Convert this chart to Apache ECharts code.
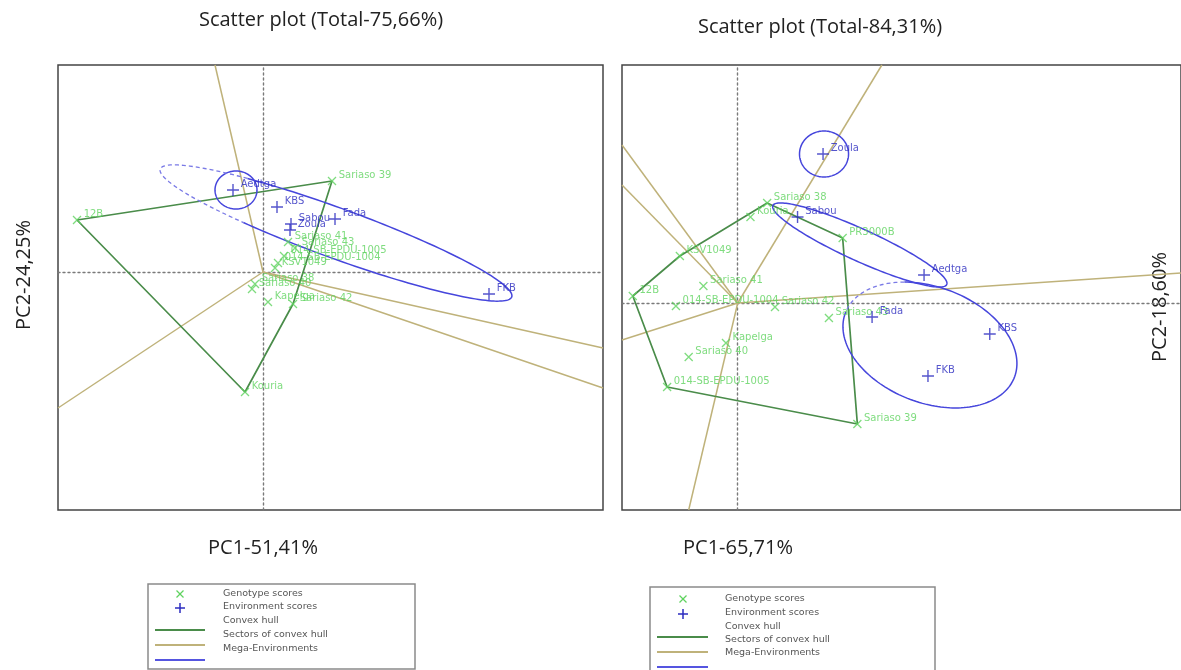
<!DOCTYPE html>
<html><head><meta charset="utf-8">
<script src="https://cdn.jsdelivr.net/npm/echarts@6/dist/echarts.min.js"></script>
<style>html,body{margin:0;padding:0;background:#fff}#c{width:1181px;height:670px}</style>
</head><body><div id="c"></div>
<script>
// ---------- Left biplot (Total 75,66%) ----------
const leftGenoNames = ['12B','Sariaso 39','Sariaso 41','Sariaso 43','014-SB-EPDU-1005','014-SB-EPDU-1004','KSV1049','Sariaso 38','Sariaso 40','Kapelga','Sariaso 42','Kouria'];
const leftGenoX = [-1.86, 0.69, 0.25, 0.32, 0.21, 0.15, 0.12, -0.08, -0.11, 0.05, 0.30, -0.18];
const leftGenoY = [ 0.52, 0.91, 0.30, 0.24, 0.16, 0.09, 0.04, -0.12, -0.17, -0.30, -0.32, -1.20];
const leftEnvNames = ['Aedtga','KBS','Sabou','Zoula','Fada','FKB'];
const leftEnvX = [-0.30, 0.14, 0.28, 0.27, 0.72, 2.26];
const leftEnvY = [ 0.82, 0.65, 0.48, 0.42, 0.53, -0.22];
const leftHull = ['12B','Sariaso 39','Sariaso 42','Kouria'];
const leftRayX = [-0.48, -2.05, 3.40, 3.40];
const leftRayY = [ 2.07, -1.36, -0.76, -1.16];
// ellipse: cx, cy, semi-a, semi-b, angle(deg), dashed from t0 to t1 (deg)
const leftEllipses = [[-0.27, 0.82, 0.21, 0.19, 0, 0, 0],[0.73, 0.39, 1.87, 0.25, -20, 123, 241]];

// ---------- Right biplot (Total 84,31%) ----------
const rightGenoNames = ['12B','KSV1049','Sariaso 38','Kouria','PR3000B','Sariaso 41','014-SB-EPDU-1004','Sariaso 42','Sariaso 43','Kapelga','Sariaso 40','014-SB-EPDU-1005','Sariaso 39'];
const rightGenoX = [-1.07, -0.59, 0.30, 0.13, 1.07, -0.35, -0.63, 0.38, 0.93, -0.12, -0.50, -0.72, 1.22];
const rightGenoY = [ 0.07, 0.47, 1.00, 0.86, 0.65, 0.17, -0.03, -0.04, -0.15, -0.40, -0.54, -0.84, -1.21];
const rightEnvNames = ['Zoula','Sabou','Aedtga','Fada','KBS','FKB'];
const rightEnvX = [0.87, 0.61, 1.90, 1.37, 2.57, 1.94];
const rightEnvY = [1.49, 0.86, 0.28, -0.14, -0.31, -0.73];
const rightHull = ['12B','KSV1049','Sariaso 38','PR3000B','Sariaso 39','014-SB-EPDU-1005'];
const rightRayX = [1.47, -1.18, -1.18, -1.18, 4.52, -0.50];
const rightRayY = [2.38, 1.58, 1.18, -0.37, 0.30, -2.07];
const rightEllipses = [[0.88, 1.49, 0.25, 0.23, 0, 0, 0],[1.245, 0.58, 0.97, 0.16, -24, 0, 0],[1.96, -0.42, 0.92, 0.58, -20, 120, 178]];

const titles = ['Scatter plot (Total-75,66%)','Scatter plot (Total-84,31%)'];
const xNames = ['PC1-51,41%','PC1-65,71%'];
const yNames = ['PC2-24,25%','PC2-18,60%'];
const legendItems = ['Genotype scores','Environment scores','Convex hull','Sectors of convex hull','Mega-Environments'];

const GREEN='#5fd35f', HULL='#4a8c4a', TAN='#bfb27a', BLUE='#4646dc', ENV='#2b2bbf';
const X_SYM='path://M0,0L10,10M10,0L0,10', P_SYM='path://M5,0L5,10M0,5L10,5';
const F='DejaVu Sans';

function pts(names,xs,ys){return names.map((n,i)=>({name:n,value:[xs[i],ys[i]]}));}
function hullData(hull,names,xs,ys){const d=hull.map(h=>{const i=names.indexOf(h);return [xs[i],ys[i]];});d.push(d[0]);return d;}
function rays(xs,ys){return xs.map((x,i)=>({coords:[[0,0],[x,ys[i]]]}));}
function ellipseRender(params, api){
  const cx=api.value(0),cy=api.value(1),a=api.value(2),b=api.value(3),ang=api.value(4)*Math.PI/180,d0=api.value(5),d1=api.value(6);
  function arc(t0,t1){const out=[];const n=Math.max(12,Math.ceil(Math.abs(t1-t0)/2));
    for(let i=0;i<=n;i++){const t=(t0+(t1-t0)*i/n)*Math.PI/180;const u=a*Math.cos(t),v=b*Math.sin(t);
      out.push(api.coord([cx+u*Math.cos(ang)-v*Math.sin(ang), cy+u*Math.sin(ang)+v*Math.cos(ang)]));}
    return out;}
  const ch=[];
  if(d0===d1){ch.push({type:'polyline',shape:{points:arc(0,360)},style:{fill:null,stroke:BLUE,lineWidth:1.5}});}
  else{
    ch.push({type:'polyline',shape:{points:arc(d1,d0+360)},style:{fill:null,stroke:BLUE,lineWidth:1.5}});
    ch.push({type:'polyline',shape:{points:arc(d0,d1)},style:{fill:null,stroke:'#7a7ae6',lineWidth:1.3,lineDash:[4,3]}});
  }
  return {type:'group',children:ch};
}
function axisCfg(idx,min,max){return {gridIndex:idx,type:'value',min:min,max:max,axisLabel:{show:false},axisTick:{show:false},splitLine:{show:false},
  axisLine:{show:true,onZero:true,lineStyle:{color:'#7a7a7a',type:[2,3],width:1.4}}};}
function panelSeries(i,gN,gX,gY,eN,eX,eY,hull,rX,rY,ell){
  return [
    {type:'lines',coordinateSystem:'cartesian2d',xAxisIndex:i,yAxisIndex:i,data:rays(rX,rY),lineStyle:{color:TAN,width:1.5,opacity:1},silent:true,z:2},
    {type:'line',xAxisIndex:i,yAxisIndex:i,data:hullData(hull,gN,gX,gY),symbol:'none',lineStyle:{color:HULL,width:1.7},silent:true,z:3},
    {type:'custom',xAxisIndex:i,yAxisIndex:i,data:ell,renderItem:ellipseRender,encode:{x:0,y:1},silent:true,z:4},
    {type:'scatter',xAxisIndex:i,yAxisIndex:i,data:pts(gN,gX,gY),symbol:X_SYM,symbolSize:8,
      itemStyle:{color:'rgba(0,0,0,0)',borderColor:GREEN,borderWidth:1.3},
      label:{show:true,formatter:'{b}',position:'right',distance:2,offset:[0,-6],color:GREEN,fontFamily:F,fontSize:10},z:5},
    {type:'scatter',xAxisIndex:i,yAxisIndex:i,data:pts(eN,eX,eY),symbol:P_SYM,symbolSize:12,
      itemStyle:{color:'rgba(0,0,0,0)',borderColor:ENV,borderWidth:1.4},
      label:{show:true,formatter:'{b}',position:'right',distance:1,offset:[0,-6],color:ENV,fontFamily:F,fontSize:10},z:6}
  ];
}
function legendGraphic(x0,y0,w,h,symX,txtX,rowYs,lineX0,lineX1,lineYs){
  const els=[{type:'rect',shape:{x:x0,y:y0,width:w,height:h},style:{fill:'#fff',stroke:'#8a8a8a',lineWidth:1.5}}];
  legendItems.forEach((t,k)=>els.push({type:'text',x:txtX,y:rowYs[k],style:{text:t,fill:'#555',font:'9.5px '+F,textVerticalAlign:'middle'}}));
  els.push({type:'line',shape:{x1:symX-3.5,y1:rowYs[0]-3.5,x2:symX+3.5,y2:rowYs[0]+3.5},style:{stroke:GREEN,lineWidth:1.2}});
  els.push({type:'line',shape:{x1:symX-3.5,y1:rowYs[0]+3.5,x2:symX+3.5,y2:rowYs[0]-3.5},style:{stroke:GREEN,lineWidth:1.2}});
  els.push({type:'line',shape:{x1:symX-5,y1:rowYs[1]+1,x2:symX+5,y2:rowYs[1]+1},style:{stroke:ENV,lineWidth:1.5}});
  els.push({type:'line',shape:{x1:symX,y1:rowYs[1]-4,x2:symX,y2:rowYs[1]+6},style:{stroke:ENV,lineWidth:1.5}});
  [HULL,TAN,'#5555e0'].forEach((c,k)=>els.push({type:'line',shape:{x1:lineX0,y1:lineYs[k],x2:lineX1,y2:lineYs[k]},style:{stroke:c,lineWidth:2}}));
  return els;
}
const chart=echarts.init(document.getElementById('c'));
const graphics=[
  {type:'text',x:321,y:20,style:{text:titles[0],font:'20px "Open Sans"',fill:'#222',textAlign:'center',textVerticalAlign:'middle'}},
  {type:'text',x:820,y:27,style:{text:titles[1],font:'20px "Open Sans"',fill:'#222',textAlign:'center',textVerticalAlign:'middle'}},
  {type:'text',x:263,y:548,style:{text:xNames[0],font:'20px "Open Sans"',fill:'#222',textAlign:'center',textVerticalAlign:'middle'}},
  {type:'text',x:738,y:548,style:{text:xNames[1],font:'20px "Open Sans"',fill:'#222',textAlign:'center',textVerticalAlign:'middle'}},
  {type:'text',x:24,y:275,rotation:Math.PI/2,style:{text:yNames[0],font:'20px "Open Sans"',fill:'#222',textAlign:'center',textVerticalAlign:'middle'}},
  {type:'text',x:1160,y:307,rotation:Math.PI/2,style:{text:yNames[1],font:'20px "Open Sans"',fill:'#222',textAlign:'center',textVerticalAlign:'middle'}}
].concat(legendGraphic(148,584,267,85,180,223,[594,607,621,635,649],155,205,[630,645,660]))
 .concat(legendGraphic(650,587,285,90,683,725,[599,613,627,640,653],657,708,[637,652,667]));
chart.setOption({
  animation:false,
  grid:[{left:58,top:65,width:545,height:445,show:true,borderColor:'#444',borderWidth:1.5},
        {left:622,top:65,width:570,height:445,show:true,borderColor:'#444',borderWidth:1.5}],
  xAxis:[axisCfg(0,-2.05,3.40),axisCfg(1,-1.18,4.52)],
  yAxis:[axisCfg(0,-2.38,2.07),axisCfg(1,-2.07,2.38)],
  graphic:graphics,
  series:[].concat(
    panelSeries(0,leftGenoNames,leftGenoX,leftGenoY,leftEnvNames,leftEnvX,leftEnvY,leftHull,leftRayX,leftRayY,leftEllipses),
    panelSeries(1,rightGenoNames,rightGenoX,rightGenoY,rightEnvNames,rightEnvX,rightEnvY,rightHull,rightRayX,rightRayY,rightEllipses))
});
</script></body></html>
